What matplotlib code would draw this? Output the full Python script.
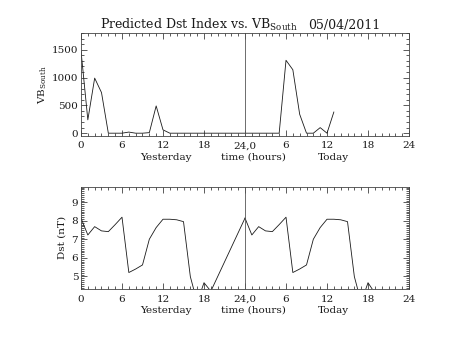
import numpy as np
import matplotlib
matplotlib.use('Agg')
from matplotlib import pyplot as plt
from matplotlib.ticker import MultipleLocator, FixedLocator, FixedFormatter

plt.rcParams['font.family'] = ['DejaVu Serif']
plt.rcParams['mathtext.fontset'] = 'dejavuserif'

# hours counted from the start of yesterday (0..48)
vb_hours = list(range(0, 38))
vb_south = [1480, 240, 990, 730, 0, 0, 0, 20, 0, 0, 10, 490, 60, 0,
            0, 0, 0, 0, 0, 0, 0, 0, 0, 0,
            0, 0, 0, 0, 0, 0, 1310, 1140, 340, 0, 0, 100, 0, 380]

dst_hours_yday = [0, 1, 2, 3, 4, 5, 6, 7, 8, 9, 10, 11, 12, 13, 14, 15, 16, 17, 18, 19, 24]
dst_yday = [8.15, 7.24, 7.69, 7.46, 7.42, 7.8, 8.2, 5.21, 5.4, 5.62, 7.01, 7.64,
            8.09, 8.09, 8.06, 7.96, 4.99, 3.6, 4.66, 4.2, 8.15]
dst_hours_today = [24, 25, 26, 27, 28, 29, 30, 31, 32, 33, 34, 35, 36, 37, 38, 39, 40, 41, 42, 43]
dst_today = [8.15, 7.24, 7.69, 7.46, 7.42, 7.8, 8.2, 5.21, 5.4, 5.62, 7.01, 7.64,
             8.09, 8.09, 8.06, 7.96, 4.99, 3.6, 4.66, 4.1]

xtick_pos = [0, 6, 12, 18, 24, 30, 36, 42, 48]
xtick_lab = ['0', '6', '12', '18', '24,0', '6', '12', '18', '24']

ink = '#1a1a1a'
fig = plt.figure(figsize=(4.53, 3.40), dpi=100)


def style(ax):
    ax.set_xlim(0, 48)
    ax.xaxis.set_major_locator(FixedLocator(xtick_pos))
    ax.xaxis.set_major_formatter(FixedFormatter(xtick_lab))
    ax.xaxis.set_minor_locator(MultipleLocator(1))
    ax.tick_params(which='both', direction='in', top=True, right=True,
                   colors=ink, labelsize=7.5, width=0.5)
    ax.tick_params(which='major', length=4)
    ax.tick_params(which='minor', length=2)
    ax.tick_params(axis='x', pad=4)
    ax.tick_params(axis='y', pad=2)
    for s in ax.spines.values():
        s.set_linewidth(0.6)
        s.set_color('#444444')
    ax.axvline(24, color='#555555', lw=0.6)
    for txt, xh in [('Yesterday', 12.4), ('time (hours)', 25.2), ('Today', 37.0)]:
        ax.text(xh, -0.21, txt, transform=ax.get_xaxis_transform(),
                ha='center', va='center', fontsize=7.5, color=ink)


# VB south panel
ax1 = fig.add_axes([0.1788, 0.6009, 0.7241, 0.302])
ax1.plot(vb_hours, vb_south, color=ink, lw=0.6)
ax1.set_ylim(-45, 1800)
ax1.yaxis.set_major_locator(MultipleLocator(500))
ax1.yaxis.set_minor_locator(MultipleLocator(100))
ax1.set_ylabel(r'VB$_{\mathrm{South}}$', fontsize=7.5, color=ink, labelpad=2)
style(ax1)

# Dst panel
ax2 = fig.add_axes([0.1788, 0.1500, 0.7241, 0.301])
ax2.plot(dst_hours_yday, dst_yday, color=ink, lw=0.6)
ax2.plot(dst_hours_today, dst_today, color=ink, lw=0.6)
ax2.set_ylim(4.32, 9.85)
ax2.yaxis.set_major_locator(MultipleLocator(1))
ax2.yaxis.set_minor_locator(MultipleLocator(0.1))
ax2.set_ylabel('Dst (nT)', fontsize=7.5, color=ink, labelpad=4)
style(ax2)

fig.text(0.22, 0.926, r'Predicted Dst Index vs. VB$_{\mathrm{South}}$',
         fontsize=9, color=ink, ha='left', va='center')
fig.text(0.68, 0.926, '05/04/2011', fontsize=9, color=ink, ha='left', va='center')

fig.savefig('out.png', dpi=100)
